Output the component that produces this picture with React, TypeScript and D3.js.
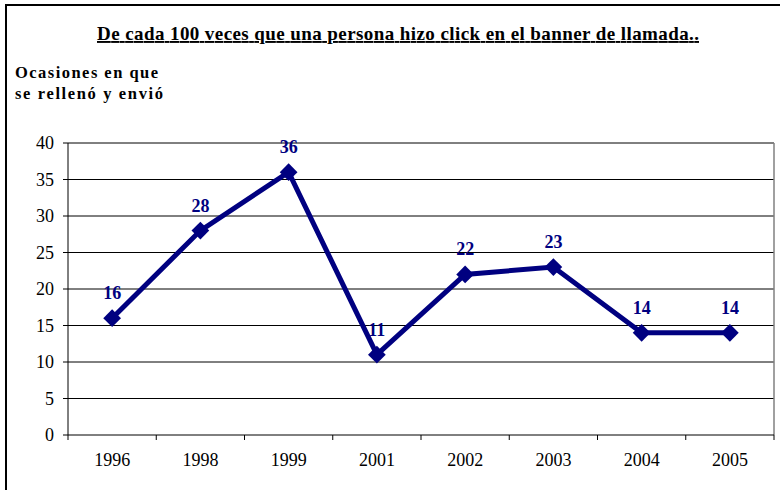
import * as d3 from 'd3';

const years = ['1996', '1998', '1999', '2001', '2002', '2003', '2004', '2005'];
const values = [16, 28, 36, 11, 22, 23, 14, 14];
const yTicks = [0, 5, 10, 15, 20, 25, 30, 35, 40];

const W = 780;
const H = 490;
const plot = { left: 68, right: 774, top: 143, bottom: 435 };
const navy = '#000080';
const serif = '"Liberation Serif", "Times New Roman", serif';

export default function App() {
  const x = d3.scaleBand().domain(years).range([plot.left, plot.right]);
  const y = d3.scaleLinear().domain([0, 40]).range([plot.bottom, plot.top]);
  const cx = (d: string) => (x(d) ?? 0) + x.bandwidth() / 2;

  const line = d3
    .line<number>()
    .x((_, i) => cx(years[i]))
    .y((v) => y(v));

  const diamond = d3.symbol().type(d3.symbolDiamond2).size(200)();

  return (
    <svg
      width={W}
      height={H}
      style={{ position: 'absolute', left: 0, top: 0, fontFamily: serif }}
    >
      <rect x={0} y={0} width={W} height={H} fill="#fff" />
      {/* outer frame, cut off at right and bottom */}
      <rect x={6} y={5} width={W + 10} height={H + 10} fill="none" stroke="#000" strokeWidth={2} />

      <text
        x={97}
        y={40}
        fontSize={19}
        fontWeight="bold"
        textDecoration="underline"
        textLength={602}
        lengthAdjust="spacing"
      >
        De cada 100 veces que una persona hizo click en el banner de llamada..
      </text>
      <text x={15} y={78} fontSize={16.5} fontWeight="bold" textLength={143} lengthAdjust="spacing">
        Ocasiones en que
      </text>
      <text x={15} y={99} fontSize={16.5} fontWeight="bold" textLength={148} lengthAdjust="spacing">
        se rellenó y envió
      </text>

      {/* grid */}
      {yTicks.slice(1).map((t) => (
        <line key={t} x1={plot.left} x2={plot.right} y1={y(t)} y2={y(t)} stroke="#000" strokeWidth={1} />
      ))}
      <line x1={plot.right} x2={plot.right} y1={plot.top} y2={plot.bottom} stroke="#808080" strokeWidth={1.5} />

      {/* axes */}
      <line x1={plot.left} x2={plot.left} y1={plot.top} y2={plot.bottom} stroke="#000" strokeWidth={1} />
      <line x1={plot.left} x2={plot.right} y1={plot.bottom} y2={plot.bottom} stroke="#000" strokeWidth={1} />
      {yTicks.map((t) => (
        <g key={t}>
          <line x1={plot.left - 5} x2={plot.left} y1={y(t)} y2={y(t)} stroke="#000" />
          <text x={54} y={y(t) + 6} textAnchor="end" fontSize={18}>
            {t}
          </text>
        </g>
      ))}
      {years.map((d) => (
        <g key={d}>
          <line x1={x(d) ?? 0} x2={x(d) ?? 0} y1={plot.bottom} y2={plot.bottom + 5} stroke="#000" />
          <text x={cx(d)} y={466} textAnchor="middle" fontSize={18}>
            {d}
          </text>
        </g>
      ))}
      <line x1={plot.right} x2={plot.right} y1={plot.bottom} y2={plot.bottom + 5} stroke="#000" />

      {/* series */}
      <path d={line(values) ?? ''} fill="none" stroke={navy} strokeWidth={5} strokeLinejoin="miter" />
      {values.map((v, i) => (
        <g key={years[i]}>
          <path d={diamond ?? ''} transform={`translate(${cx(years[i])},${y(v)})`} fill={navy} />
          <text
            x={cx(years[i])}
            y={y(v) - 19}
            textAnchor="middle"
            fontSize={18}
            fontWeight="bold"
            fill={navy}
          >
            {v}
          </text>
        </g>
      ))}
    </svg>
  );
}
